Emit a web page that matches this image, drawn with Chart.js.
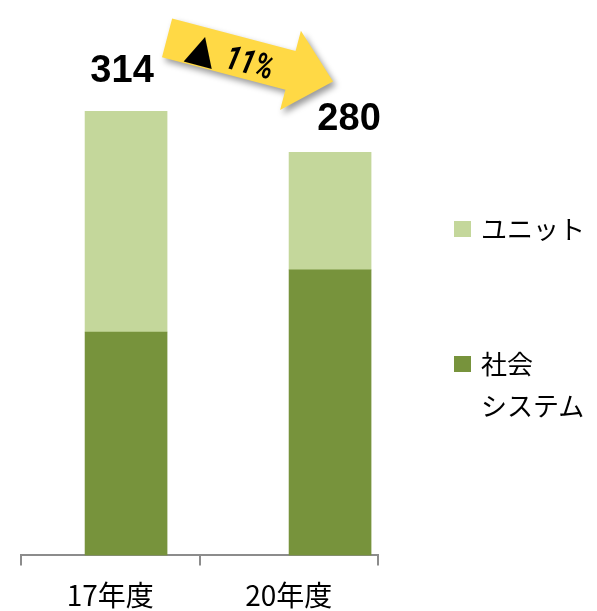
<!DOCTYPE html>
<html>
<head>
<meta charset="utf-8">
<script src="https://cdn.jsdelivr.net/npm/chart.js@4/dist/chart.umd.min.js"></script>
<style>
  body { margin: 0; background: #fff; overflow: hidden; }
  .wrap { position: relative; width: 597px; height: 611px; overflow: hidden; }
  .chart-box { position: absolute; left: 0; top: 0; width: 597px; height: 625px; }
  .legend { position: absolute; left: 454px; top: 0; font-family: "Noto Sans CJK JP", sans-serif; font-size: 26px; color: #000; }
  .legend .box { position: absolute; left: 0; width: 17px; height: 16px; }
  .legend .text { position: absolute; left: 27px; white-space: pre; line-height: 42px; }
</style>
</head>
<body>
<div class="wrap">
  <div class="chart-box"><canvas id="chart"></canvas></div>
  <div class="legend" id="legend"></div>
</div>
<script>
const categories = ['17年度', '20年度'];
const socialSystem = [158, 202];
const unitValues = [156, 83];
const totals = ['314', '280'];
const change = '11%';

const seriesNames = ['社会\nシステム', 'ユニット'];
const seriesColors = ['#77933C', '#C4D79B'];

// legend, top item is the top segment
const legendTop = [356, 221];
const legend = document.getElementById('legend');
[1, 0].forEach(i => {
    const box = document.createElement('div');
    box.className = 'box';
    box.style.top = legendTop[i] + 'px';
    box.style.background = seriesColors[i];
    const text = document.createElement('div');
    text.className = 'text';
    text.style.top = (legendTop[i] - 14) + 'px';
    text.textContent = seriesNames[i];
    legend.appendChild(box);
    legend.appendChild(text);
});

const overlay = {
    id: 'overlay',
    afterDatasetsDraw(chart) {
        const top = chart.getDatasetMeta(1).data;
        const ctx = chart.ctx;
        ctx.save();
        ctx.fillStyle = '#000';
        ctx.textAlign = 'center';
        ctx.font = 'bold 38px "Liberation Sans", Arial, sans-serif';
        ctx.fillText(totals[0], top[0].x - 4, top[0].y - 29);
        ctx.fillText(totals[1], top[1].x + 19, top[1].y - 22);

        // yellow arrow between the two totals
        const x0 = top[0].x + 41, y0 = top[0].y - 73.5;
        const x1 = top[1].x + 3, y1 = top[1].y - 71;
        const ang = Math.atan2(y1 - y0, x1 - x0);
        const len = Math.hypot(x1 - x0, y1 - y0);
        ctx.translate(x0, y0);
        ctx.rotate(ang);
        ctx.shadowColor = 'rgba(0,0,0,0.4)';
        ctx.shadowBlur = 6;
        ctx.shadowOffsetX = 3;
        ctx.shadowOffsetY = 4;
        ctx.beginPath();
        ctx.moveTo(0, -20);
        ctx.lineTo(len - 44, -20);
        ctx.lineTo(len - 44, -41);
        ctx.lineTo(len, 0);
        ctx.lineTo(len - 44, 41);
        ctx.lineTo(len - 44, 20);
        ctx.lineTo(0, 20);
        ctx.closePath();
        ctx.fillStyle = '#FFD945';
        ctx.fill();
        ctx.shadowColor = 'rgba(0,0,0,0)';
        ctx.shadowBlur = 0;
        ctx.shadowOffsetX = 0;
        ctx.shadowOffsetY = 0;
        ctx.fillStyle = '#000';
        ctx.textAlign = 'left';
        ctx.font = '38px "DejaVu Sans", sans-serif';
        ctx.fillText('▲', 22, 14);
        ctx.scale(0.78, 1);
        ctx.font = 'italic bold 34px Roboto, sans-serif';
        ctx.fillText(change, 62 / 0.78, 14);
        ctx.restore();
    }
};

new Chart(document.getElementById('chart').getContext('2d'), {
    type: 'bar',
    data: {
        labels: categories,
        datasets: [{
            label: seriesNames[0],
            data: categories.map((c, i) => ({ x: i, y: socialSystem[i] })),
            backgroundColor: seriesColors[0],
            xAxisID: 'xb',
        }, {
            label: seriesNames[1],
            data: categories.map((c, i) => ({ x: i, y: unitValues[i] })),
            backgroundColor: seriesColors[1],
            xAxisID: 'xb',
        }]
    },
    options: {
        responsive: true,
        maintainAspectRatio: false,
        animation: false,
        layout: { padding: { left: 21, right: 219, top: 4, bottom: 0 } },
        barThickness: 82,
        plugins: {
            legend: { display: false },
            tooltip: { enabled: false },
        },
        scales: {
            x: {
                type: 'category',
                offset: true,
                grid: { offset: true, drawOnChartArea: false, drawTicks: true, tickLength: 10, color: '#8c8c8c', lineWidth: 2 },
                border: { display: true, color: '#8c8c8c', width: 2 },
                ticks: { color: '#000', padding: 13, font: { family: '"Noto Sans CJK JP", sans-serif', size: 28, lineHeight: 1.2 } },
            },
            xb: {
                type: 'linear',
                display: false,
                offset: false,
                stacked: true,
                min: -0.515,
                max: 1.235,
            },
            y: {
                display: false,
                stacked: true,
                min: 0,
                max: 390,
            }
        }
    },
    plugins: [overlay]
});
</script>
</body>
</html>
